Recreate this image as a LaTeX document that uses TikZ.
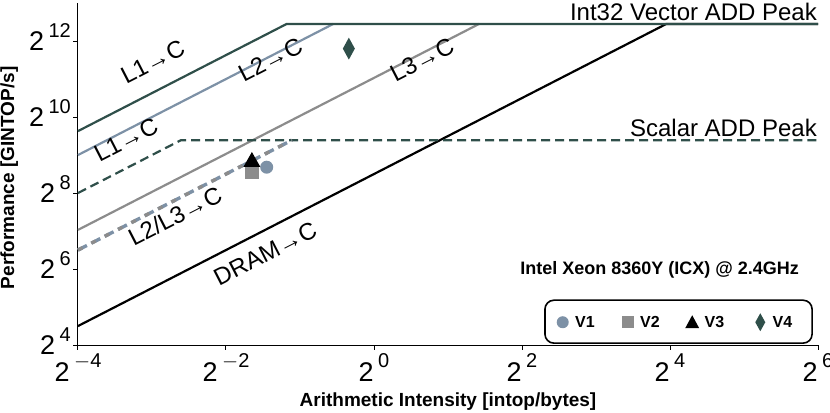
\documentclass[tikz,border=0pt]{standalone}
\usepackage{fontspec}
\setmainfont{Liberation Sans}
\usetikzlibrary{positioning}
\definecolor{dkgreen}{HTML}{2F4F4A}
\definecolor{bluegray}{HTML}{7D91A6}
\definecolor{midgray}{HTML}{8C8C8C}
\newcommand{\pw}[1]{2\,\raisebox{0.5em}{\fontsize{20}{20}\selectfont#1}}
\begin{document}
\begin{tikzpicture}
[
	               x = 74pt, y = 38pt,
	      font = \fontsize{24}{24}\selectfont,
	  roof/.style = { line width=2.2pt },
	  lbl/.style = { rotate=27.2, inner sep=1pt },
	  tick/.style = { font=\fontsize{27}{27}\selectfont, inner sep=1pt },
	  leg/.style = { anchor=west, font=\fontsize{16}{16}\selectfont\bfseries }
]
	\useasboundingbox (-5.054,2.237) rectangle (6.162,13.08);
	% axes
	\draw [line width=1pt] (-4,13) -- (-4,4) -- (6,4);
	\foreach \e in {4,6,...,12}
		\draw [line width=1pt] (-4,\e) -- ++(-5pt,0);
	\foreach \e in {-4,-2,...,6}
		\draw [line width=1pt] (\e,4) -- ++(0,-5pt);
	\node [tick, anchor=east] at (-4.08,4.1) {\pw{4}};
	\node [tick, anchor=east] at (-4.08,6.1) {\pw{6}};
	\node [tick, anchor=east] at (-4.08,8.1) {\pw{8}};
	\node [tick, anchor=east] at (-4.08,10.1) {\pw{10}};
	\node [tick, anchor=east] at (-4.08,12.1) {\pw{12}};
	\node [tick, anchor=north] at (-4,3.8) {\pw{$-$4}};
	\node [tick, anchor=north] at (-2,3.8) {\pw{$-$2}};
	\node [tick, anchor=north] at (0,3.8) {\pw{0}};
	\node [tick, anchor=north] at (2,3.8) {\pw{2}};
	\node [tick, anchor=north] at (4,3.8) {\pw{4}};
	\node [tick, anchor=north] at (6,3.8) {\pw{6}};
	\node (xt) at (1,2.5) {\fontsize{19}{19}\selectfont\bfseries Arithmetic Intensity [intop/bytes]};
	\node (yt) [rotate=90] at (-4.93,8.4) {\fontsize{19}{19}\selectfont\bfseries Performance [GINTOP/s]};

	% roofs
	\draw [roof, black] (-4,4.5) -- (3.95,12.45) -- (6,12.45);
	\draw [roof, midgray] (-4,7.03) -- (1.42,12.45);
	\draw [roof, bluegray] (-4,9.0) -- (-0.55,12.45);
	\draw [roof, dkgreen] (-4,9.63) -- (-1.18,12.45) -- (6,12.45);
	\draw [roof, dkgreen, dash pattern=on 9pt off 5pt] (-4,8) -- (-2.61,9.39) -- (6,9.39);
	\draw [line width=3.4pt, bluegray, dash pattern=on 10pt off 5pt] (-4,6.5) -- (-1.11,9.39);
	\draw [line width=3.4pt, midgray, dash pattern=on 5pt off 10pt] (-4,6.5) -- (-1.11,9.39);

	% labels
	\node (vpeak) [anchor=south east, inner sep=1pt] at (6.0,12.5) {Int32 Vector ADD Peak};
	\node (speak) [anchor=south east, inner sep=1pt] at (6.0,9.45) {Scalar ADD Peak};
	\node [lbl] at (-2.99,11.45) {L1→C};
	\node [lbl] at (-1.4,11.5) {L2→C};
	\node [lbl] at (-3.35,9.4) {L1→C};
	\node [lbl] at (0.65,11.5) {L3→C};
	\node [lbl] at (-2.69,7.4) {L2/L3→C};
	\node [lbl] at (-1.47,6.4) {DRAM→C};
	\node (cpu) at (3.86,5.97) {\fontsize{18}{18}\selectfont\bfseries Intel Xeon 8360Y (ICX) @ 2.4GHz};

	% measurements
	\fill [bluegray] (-1.45,8.68) circle (6.5pt);
	\fill [midgray] (-1.65,8.55) ++(-7pt,-7pt) rectangle ++(14pt,14pt);
	\fill [black] (-1.65,8.87) ++(0,8pt) -- ++(-8.5pt,-15pt) -- ++(17pt,0) -- cycle;
	\fill [dkgreen] (-0.34,11.8) ++(0,11pt) -- ++(6pt,-11pt) -- ++(-6pt,-11pt) -- ++(-6pt,11pt) -- cycle;

	% legend
	\draw [line width=1.6pt, rounded corners=9pt] (2.31,4.05) rectangle (5.92,5.18);
	\fill [bluegray] (2.55,4.6) circle (6pt);
	\node [leg] at (2.67,4.6) {V1};
	\fill [midgray] (3.43,4.6) ++(-6pt,-6pt) rectangle ++(12pt,12pt);
	\node [leg] at (3.55,4.6) {V2};
	\fill [black] (4.30,4.6) ++(0,7pt) -- ++(-7pt,-13pt) -- ++(14pt,0) -- cycle;
	\node [leg] at (4.42,4.6) {V3};
	\fill [dkgreen] (5.22,4.6) ++(0,9pt) -- ++(5pt,-9pt) -- ++(-5pt,-9pt) -- ++(-5pt,9pt) -- cycle;
	\node [leg] at (5.34,4.6) {V4};
\end{tikzpicture}
\end{document}
